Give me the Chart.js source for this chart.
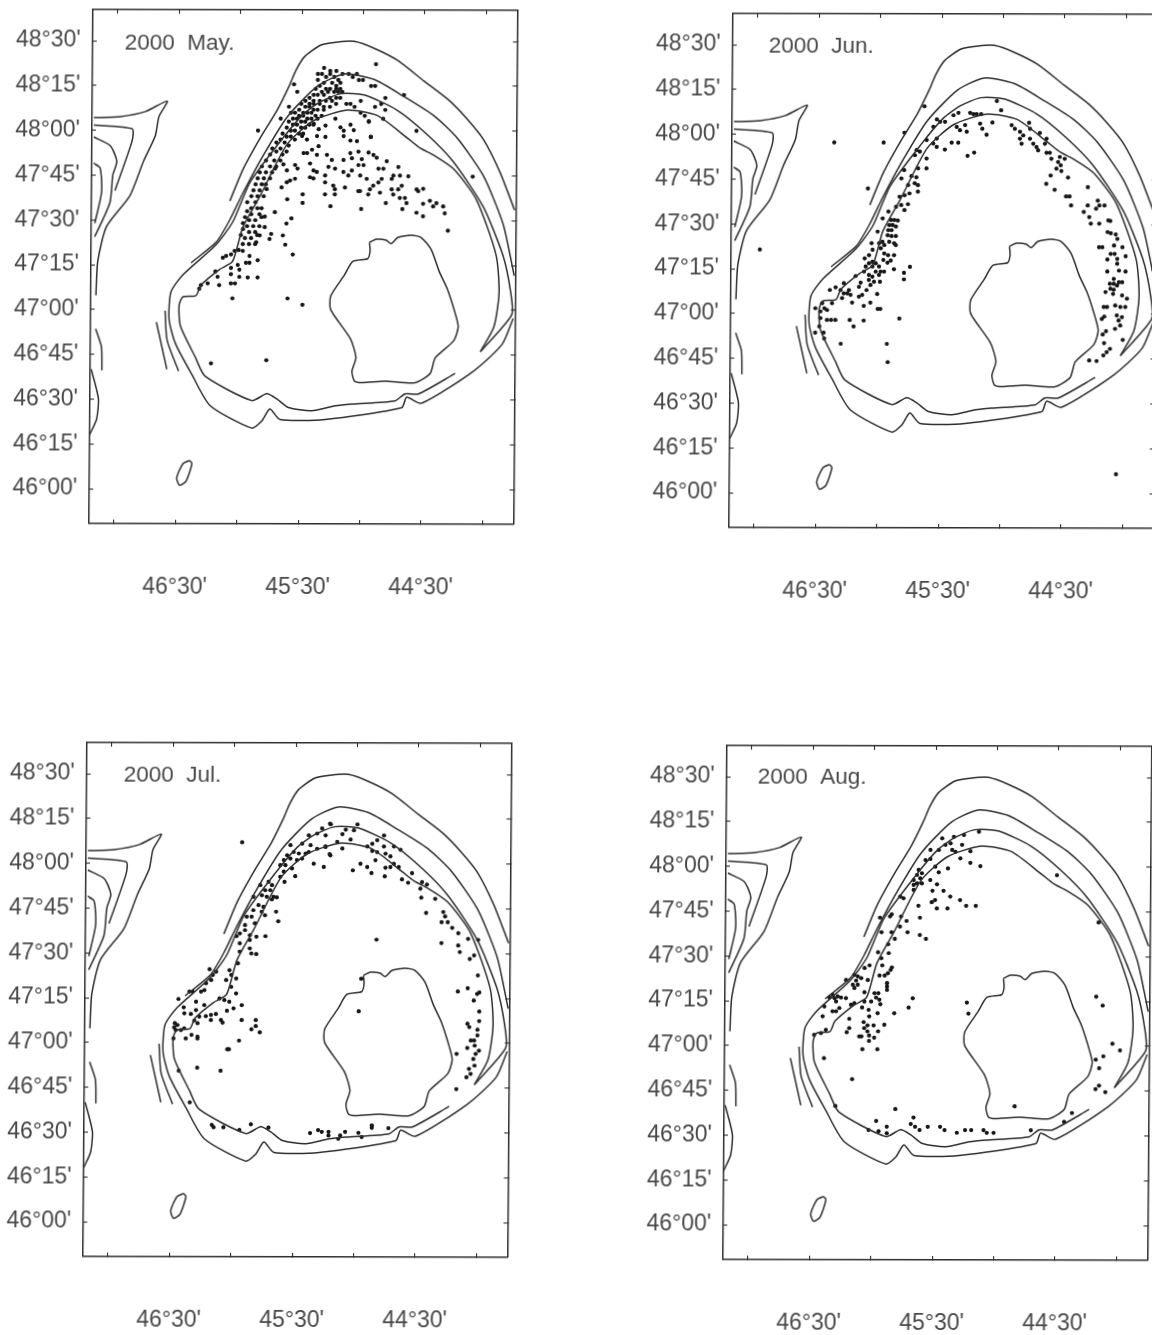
<!DOCTYPE html>
<html><head><meta charset="utf-8">
<script src="https://cdn.jsdelivr.net/npm/chart.js@4/dist/chart.umd.min.js"></script>
<style>
html,body{margin:0;padding:0;background:#fff;width:1152px;height:1335px;overflow:hidden}
canvas{position:absolute;filter:blur(.35px)}
</style></head><body>
<script>
// Units: x = arcminutes west of 44°00', y = arcminutes north of 46°00'
const xTickValues=[0,30,60,90,120,150,180];
const xTickLabels=["","44°30'","","45°30'","","46°30'",""];
const yTickValues=[0,15,30,45,60,75,90,105,120,135,150];
const yTickLabels=["46°00'","46°15'","46°30'","46°45'","47°00'","47°15'","47°30'","47°45'","48°00'","48°15'","48°30'"];

// Contours: flat lon,lat pairs
const contourOuter=[124.5,96.4,118,107.3,109.8,117.7,101.7,126.9,96,134.9,92.8,140.1,88.7,144.7,80.6,148.7,72.4,149.7,64.3,149.9,54.6,147.6,43.2,143.6,30.2,136.7,18,130.3,9,124,.9,117.1,-7.2,106.2,-14.5,93.5];
const contourSecond=[143.2,75.7,131,82.6,124.5,90,118,99.3,108.2,111.9,96.8,124.6,82.2,134.9,69.2,139,54.6,137.2,40,131.5,25.3,125.1,13.9,117.7,.9,105,-8.9,88.9,-14.5,71.6];
const contourThird=[-14.2,57.3,-8.9,48.6,5,39.6,30.2,28.8,37.5,30.8,39.9,27.3,77.3,23.3,99.3,23.3,104.2,26.8,108.2,22.7,113.1,20.4,133.4,27.9,142.4,38.3,150.5,48.6,153.7,56.7,152.9,65.9,147.2,71.6,131,81.8,122.9,89.5,114.7,102.7,100,116.5,88.7,125.7,80.6,129.7,70.8,132.4,59.4,132,43.2,126.9,28.5,118.8,15.5,109.6,.9,94.7,-8.9,78.5,-12.9,65.9,-13.4,58.4,1.7,46.1];
const contourInner=[13.9,38.8,31.8,31.9,38.3,31.9,43.2,29.6,64.3,28.5,72.4,27.9,83.8,26.2,95.2,27.3,100.9,30.2,105.8,31.9,113.1,29.6,135.9,37.7,140.7,44,148.1,54.4,148.9,61.3,147.2,64.2,140.7,64.7,138.3,68.2,129.4,73.4,122.9,76.2,118,87.7,109.8,98.1,96.8,115.4,83.8,123.4,67.6,126.9,52.9,125.1,38.3,117.7,31.8,114.2,25.3,111.9,15.5,107.3,4.2,97,-5.6,78.5,-7.2,65.9,-4.8,54.4,1.7,46.1];
const contourIsland=[56.2,82.6,52.9,83.7,48.1,83.4,45.6,82.2,42.4,84.3,35.9,85.1,31,84.3,26.1,80.3,22,72.8,18,67,13.9,58.4,12.6,54.4,14.7,49.8,23.7,44,26.1,38.8,33.4,35.7,48.1,36.2,59.4,35.7,63,36.2,64.3,39.4,62.4,44,65.1,50.3,74.9,60.1,74.9,64.7,68.4,71.6,64.3,76.2,57,77.2,55.9,79.7,56.2,82.6];
const contourEllipse=[143.2,9.5,142,8.4,144.8,2.6,148,1.2,149.4,3.7,146.4,8.4,143.2,9.5];
const contourWest1=[191.1,124.2,178.1,124.6,166,126.3,155.4,129.8,159.4,124.6,161.1,118.2,166.8,109.6,173.3,98.1,184.6,87.7,188.7,76.2,189.5,64.7];
const contourWest2=[191.1,121.7,172.4,120.5,172.4,116.5,180.6,99.8];
const contourWest3=[191.1,117.7,183,114.8,179.8,109.6,181.7,105,183,95.8,190.3,84.3];
const contourWest4=[191.1,109,187.9,107.3,187.1,99.3,190.3,88.9];
const contourWest5=[189.5,53.5,186.6,47.5,186.3,39.6];
const contourWest6=[191.5,40,187.9,30.2,188.7,23.3,192,18.1];
const contourArc1=[159.9,55.8,154.6,40];
const contourArc2=[155.7,59.6,154.6,49.8,148.9,39.4];

// Sightings: flat lon,lat pairs
const pointsMay=[53.7,142.3,39.9,132,33.7,120,6.1,104.7,18,86.6,111,120,93.6,78.5,96,63.8,88.7,61.7,122.9,63.8,133.1,42,106.1,43.1,75.4,94.7,60.4,93.8,
79,141,76,140,73,140,70,139,67,139,63,139,65,138,62,137,60,137,56,135,54,135,49,131,51,129,54,128,49,127,50,124,61,130,66,129,68,129,64,128,57,123,56,118,61,126,59,125,
82,139,80,139,78,138,76,139,74,138,72,137,82,137,79,136,75,136,73,135,71,136,81,135,78,134,76,134,73,134,71,134,83,134,80,133,77,133,74,133,72,133,70,133,84,132,82,132,79,132,76,131,73,131,71,131,86,131,84,130,81,130,78,130,75,130,73,129,88,130,86,129,84,129,81,129,79,128,76,128,90,129,88,128,86,128,84,127,82,127,79,127,91,127,89,126,87,126,85,126,83,125,80,125,93,126,91,125,89,125,87,124,85,124,82,124,94,124,92,124,90,123,88,123,86,122,84,122,96,123,94,122,92,122,90,121,88,121,97,121,95,120,93,120,91,119,89,119,93.6,135.5,92,133,96,128,95,126,100,124,
99,119,97,118,95,118,93,117,100,117,98,116,96,115,102,116,100,114,97,113,104,114,102,113,99,112,105,112,103,110,100,110,107,110,105,108,102,108,109,108,107,106,104,106,110,106,108,104,105,104,111,104,109,102,107,102,112,102,110,100,113,100,111,98,108,98,114,98,112,96,116,96,114,94,111,94,116,93,114,92,110,92,117,91,115,90,112,90,109,91,118,89,116,88,113,88,110,88,118,87,115,86,112,86,119,85,117,84,114,84,111,85,118,82,115,82,112,82,120,80,
109,94,107.4,91.2,107.4,87.7,109.8,84.9,111.5,82.6,104.2,85.4,105,83.7,98.5,84.9,97.3,81.8,102.5,92.7,96.8,88.9,94.4,90.6,96.5,97,89,98.7,89,95.8,
123.7,78.5,122,79.7,118,79.7,114.7,78,110.7,76.6,114.7,75.7,116.4,75.7,120.4,75,123.7,74,119.6,73.4,123.7,71.9,119.6,71,115.5,70.8,110.7,70.8,130.2,71,129.4,68.2,123.7,68.8,121.7,68.8,135,68.8,138.3,68.2,139.1,67,131.3,72.8,126.1,78,127.7,77.4,
83.8,122.3,81.4,120.5,78.1,121.7,82.2,118.2,78.1,117.9,89.5,118.2,87.1,117,88.7,112.5,87,112.5,84.6,113.6,81.4,114.8,82.2,111.9,77.3,111.9,74.9,110.2,69.2,110.2,65.9,112.5,65.1,110.8,61.9,113,57,112.7,54.6,111.9,53,111,60.3,110.5,59.4,108.5,61.9,108.5,76.5,107.9,73.3,107.3,69.2,106.2,65.1,106.7,66.8,105,61,105,57.8,103.9,52.1,107.3,49.7,107.3,48.1,109.8,42.4,107.9,50.5,103.9,52.1,102.7,54.6,101.6,44.8,105,45.6,103.9,41.6,105,37.5,104.8,40.7,101.6,45.6,100.4,42.4,100.4,56.2,100.4,61,99.8,57,98.7,51.3,99.3,44.8,98.7,41.6,97.5,39.1,97.5,38.3,95.8,48.4,95.8,40.3,93.8,33.4,100.4,30.2,100.6,32.6,99.8,26.9,96.6,30.2,95.6,23.7,95.8,25.3,94.7,20.4,94.7,19.6,92.4,33.4,92.6,30.2,91.4,
70.8,121.1,69.2,120,65.9,122,64.3,120.2,69.2,118.2,65.9,116.7,62.7,116.5,73.3,124,57,123.2,55.9,117.9,
78.1,105,78.1,102.7,74.1,101.6,73.3,100.4,68.4,101,78.1,98.7,73.3,98.7,61.9,99.8,
85.5,109,83.8,106.7,82.2,106.2,85.5,104.4,83.8,104,92.8,108.5,91.6,107.3,98.5,108.7,96.8,106.7,92.8,103.9,95.2,103.3,96.8,102.7,99.3,101,106.6,100.4,102.5,107.3];

const pointsJun=[142.1,117.3,118,117.3,125.5,101.9,107.9,120.6,98.2,129.5,75.9,127.3,84,126.5,81.6,127.3,92.1,125.1,90.5,124.3,88.1,124.3,93.8,122.6,82.4,122.6,80.8,121.5,78.3,123.2,77.5,121,97,118.2,92.1,118.7,93.8,117,92.1,115.9,88.1,115,84.8,117.3,81.6,117.3,77,112.9,101.9,114.8,100.3,114.3,102.7,113.1,97,112,97,108.7,101.1,108.7,107.9,108.1,109.2,105.3,104.3,106.1,101.9,105.7,102.7,103.7,101.1,103.1,101.1,100.9,105.9,103.1,107.6,99.7,105.2,100.3,110,99.2,105.9,96.7,111.7,95.8,109.2,96.4,107.6,94.7,115.4,94.2,118.2,91.9,
114.1,91.4,112.5,91.4,110.8,91.2,114.9,89.7,113.3,89.7,111.7,89.2,115.4,88,113.8,88,115.7,86.3,113.8,86,111.7,86,120.6,87.5,118.2,84.1,119.8,83.6,117.3,83,114.9,84.1,112.5,83.6,119,81.9,111.7,83,123.5,83.6,123,81.4,124.7,79.6,117.3,80.2,115.4,79.6,112.5,79.6,126.8,78.5,117.7,78,114.1,77.8,115.7,77.1,
123,77.4,124.7,76.9,121.4,76.9,126.3,75.8,123,75.8,119.8,75.8,127.1,74.1,121.4,74.1,119,74.1,117.3,74.1,124.7,73,123,72.4,119.8,73,124.7,71.3,122.2,70.7,119.3,70.7,123.9,69.6,112.5,74.9,104.7,75.7,107.6,73.7,107.6,71.5,
131.2,72.6,128.7,70.4,129.5,69,136.9,70.2,134.4,67.9,138.5,67.9,136.9,66.8,135.2,66.8,137.7,65.2,133.6,66.3,140.9,68.8,143.7,67.9,125.8,67.9,129.5,65.7,127.9,66.3,120.6,66.6,123.9,63.7,127.1,62.6,132.8,63.7,142.6,63.5,147.4,63.5,146.3,61.8,150.7,61.8,148.2,60.7,145,61.2,120.3,61.6,119,61.6,145,57.9,143,57.9,140.9,57.9,148.2,58.5,133.9,57.9,127.1,57.7,109.7,58.4,132,55.7,148.7,55.7,150.7,53.6,146.6,53.6,146.3,51.7,138.2,49.9,115.7,49.9,115.2,43.8,
62.9,131.3,60.8,128.2,74.3,126.9,72.7,126.9,70.5,126.9,65,124.1,71,123.7,69.9,122,67.8,120,73.8,114,55.6,123.2,54,122,47.1,124,46.6,122,51.5,121,49.9,119.8,51.5,118.7,50.7,117,46.6,118.7,45,117,43.4,115.9,42.6,114.8,41.8,120.6,38.5,118.7,39.3,117,38.5,114,36.9,114,36.1,112,32,112.6,29.6,112,32.8,110.9,31.5,109.8,33.6,108.7,31.2,107.9,36.4,106.4,27.9,105.7,38.5,103.6,34.4,101.6,28.8,99.4,27.1,99.4,26.3,96.4,18.2,102.5,
13.3,98,12.5,96.4,10,96.4,14.1,95.3,18.2,96.4,20.1,94.2,17.4,92.5,16.6,90.3,12.5,90.3,8.1,91.4,7.1,91.2,8.4,87.5,6.8,87.1,4.4,86.7,3.6,85.2,5.2,83,12.5,82.4,10.9,82.4,1.1,82.4,6.8,80.2,4.9,80.2,-.5,79.4,8.4,78.3,3.6,78.5,3.6,76.9,2.7,74.6,8.4,74.3,-.5,74.3,
5.2,71.8,2.7,70.7,1.1,70.7,7.1,70.2,5.2,70.2,3.6,69.6,6.8,68.5,5.2,68.2,5.5,66.8,9.2,67.4,1.1,66.3,-1.3,65.2,4.4,62.9,1.9,62.4,-.5,62.4,10,62.4,8.4,62.4,3.6,59.6,1.1,59,10.9,58.4,9.7,59.2,2.7,57.9,1.9,56.2,4.4,55.1,8.8,54.3,10.4,53.2,.6,51.4,9.7,50.3,6.8,48.4,8.4,47.3,10,46.2,16.9,44.5,13.3,44.3,3.4,6.4,178,81.4];

const pointsJul=[115.9,127.1,73.1,133.4,76.9,131.8,79.3,130.1,83.4,129.5,86.6,126.7,82.5,126.2,79.3,125,75.2,125.6,72.8,122.8,76,118.9,80.9,120,92.3,126.2,90.7,123.9,88.2,123.4,84.9,123.4,83.4,123.9,93.9,122.8,95.5,121.2,92.3,121.7,89.1,121.2,86.6,121.7,97.2,119.5,94.7,119.5,91.5,118.4,95.5,117.3,89.9,115.8,97.2,115.6,95.1,113.9,
106.9,112.8,102.9,113.9,101.2,112.8,104.5,111.1,102,111.1,106.1,109.4,110.2,108.9,103.7,108.9,100.4,108.9,98.8,108.7,101.2,108,107.7,106.1,105.3,105.5,110.2,104.4,106.1,103.9,113.4,102.2,111,102.2,104.5,102.7,99.1,103.9,98,100.7,114.2,99.4,109.4,100,116.7,96.6,114.2,97.7,111.8,96,108.6,95.5,104.2,95.7,118.3,95.7,111.8,94.4,116.7,93.3,111.8,91.6,111,89.9,108.6,89.7,116.7,90.5,117.5,86.6,
121.6,84.3,131.3,84.6,128.1,83.8,129.7,82.7,130.5,81,133,79.9,120.7,82.7,118.3,81.5,123.2,81,120.7,78.7,118.3,76.5,139.5,77.1,141.1,77.1,135.4,77.1,133.8,77.6,146.4,74.6,137.8,73.7,133.8,72.6,126.4,74.8,124,74.3,121.6,73.7,119.5,71.5,115.5,72.6,122.7,70.7,143.8,71.8,143.5,69.8,140.3,69.6,137.8,70.9,136.2,68.7,133,68.9,130.5,69.3,128.1,69.6,138.6,67.4,137,66.5,130.5,67.6,125.6,67.6,124.8,66.7,115.5,67.6,108.6,67.6,108.6,65.6,110.7,64.5,106.6,63.5,
148.1,66.5,148.4,65.1,146.8,65.9,145.1,64.2,143.5,64.8,147.6,64.2,148.7,61.4,142.7,61.4,139.9,62.6,137,62,137,61.4,116.7,60.7,122.4,57.8,121.6,57.8,146,50.6,137,51.6,125.6,50.6,
72.7,133.2,65.4,131.4,61.4,131.2,59.7,133.2,75.2,129.5,69.5,127.3,67,129.9,63,128.1,73.2,123.2,67,125.1,75.2,125.8,52.4,126.7,54.8,125.8,52.4,124.3,50,127.9,46.7,129.5,46.7,125.8,50,123.9,45.9,123.4,43.5,122.5,41.8,125.8,38.6,124.7,50.8,121.2,58.1,120,54.8,118.9,61.8,117.8,52.7,116.9,45.9,118.7,43.5,118.9,41.8,120,39.4,118.9,46.2,115.8,37.8,114.8,34.8,113.7,32.9,116.9,28,113.9,25.6,113.1,28.8,111.7,28.3,108.7,21.5,108.3,25.9,103.6,
17.5,103.9,16.6,102.4,18.3,100.5,15.3,100.5,13.1,98.6,10.1,96.8,5.3,94.9,.4,94.6,18.3,93.5,10.1,92.7,9.3,90.5,2.3,89.4,4.4,88.2,.4,82.7,10.1,77.3,5.3,78.4,-.4,77,.7,76.5,2.3,74.3,-.4,70.6,-.4,67.4,5.3,66.5,4.4,65.4,.4,64.5,.4,62.6,3.6,60.9,2,60.9,1.7,59.2,5.3,58.4,-.4,57.5,10.5,56.4,1.2,56.4,2.3,54.7,1.7,52.5,4.4,51.4,3.6,49.7,5.6,48.6,10.5,44.6,58.4,70.6,57.3,81.5,50,94.6,
51.6,32.4,51.6,31.6,43.5,31.5,72.7,30.2,72.7,29,76,30.2,67,29,64.6,30.2,67.9,27.9,58.1,29.9,56.5,28.5,140.5,40,129.7,32.5,128.8,31.7,124,31.7,116.2,30.8,110.6,32.7,102,31.6,81.7,29.8,77.8,30.8];

const pointsAug=[86.6,129.5,80.9,130,76,130.6,68.7,131.7,85,127.3,82.5,127.8,88.2,125.6,92.3,125.6,81.7,125.6,76.9,127.3,80.1,125,72.8,125.2,77.7,122.8,72.8,121.3,67.9,120.2,94.7,122.2,92.3,122.6,89.9,120,88.2,118.1,83.7,119.4,98,118.9,96.4,117.8,98.8,117.2,97.2,116.1,100.4,115.5,98.8,114.4,100.4,113.9,96.4,114.4,92.3,115.5,89,114.1,91.2,111.9,85.8,111.9,100.4,112.2,82.5,110,77.7,108.8,89.9,108.8,91.5,108.1,74.7,106.9,70,106.9,98,106.9,89,106,83.8,106,97.2,102.9,
106.9,110,105.3,109.4,111,104,111.8,103.3,116.7,102.9,106.4,103.3,103.7,101.8,106.9,99.9,115.9,98,111,98,103.2,98,97.2,97.1,94.2,95.8,109.4,95.8,112.6,94,117.5,91.3,112.3,91,115.9,89.3,121.6,86.9,115.4,86.9,110.7,86.2,111.3,85.4,124,86,112.6,84.3,116.7,83.5,114.2,83.5,
133,82,128.9,83.7,127.3,83.2,125.6,82.6,128.1,81.8,129.7,80.4,127.3,80.4,128.9,79.3,113,81,113,79.8,113,78.7,124,77.9,122.4,82,141.1,76.1,139.5,77,138.6,75.9,137,76.5,135.4,76.1,133,75.9,137.8,74.8,143.5,73.1,139.5,71.5,137.8,71.5,136.2,72.6,130.5,73.7,128.9,74.2,
119.1,77.6,117.2,77.6,118.3,76.1,116.7,75.4,120.7,74.8,116.2,73.9,124,74.8,125.1,72.8,121.9,72,117.5,70.9,121.6,69.8,109.4,70.9,100.4,75.9,102.4,72.8,131.3,69,144.3,69.8,114.2,67,124.3,67.9,122.4,66.8,119.4,66.8,124,65.9,131.3,65.9,132.5,64.5,122.4,64.8,117.2,64.8,142.7,65.3,145.1,64.2,148.4,63.6,121.6,63.4,126.4,63.1,125.3,63.1,119.1,62.7,121.6,61.6,124.8,58.8,117.5,58.8,143.5,55.8,129.7,48.8,
10.9,76.6,7.7,73.6,2.8,60.8,-.9,58.6,7.2,56.6,10.9,55.5,9.2,52.6,10.9,45.6,9.2,46.8,6.1,44.6,74,74.5,73.2,70.8,50.3,39.8,108.5,38.8,117.8,34.8,112.6,32.9,116.6,31.4,112.6,30.7,121.5,31.8,99.6,36,100.9,33.8,98.8,32.9,96.6,31.8,92.6,32.9,86.6,32.9,84.4,31.8,78.4,30.9,74.4,31.8,71.4,31.8,65.4,31.8,63.8,30.9,60.5,30.9,42.3,31.8,26.1,34.6,22.3,37.6,137.8,39.8,30.5,117.2,10,101.4];

const contours=[contourOuter,contourSecond,contourThird,contourInner,contourIsland,contourEllipse,contourWest1,contourWest2,contourWest3,contourWest4,contourWest5,contourWest6,contourArc1,contourArc2];
const pairs=f=>{const o=[];for(let i=0;i<f.length;i+=2)o.push({x:f[i],y:f[i+1]});return o;};

const INK='#2e2e2e', TXT='#484848';
const FONT={family:'"Liberation Sans"',size:23};
const panels=[
 {id:'a',title:'2000  May.',left:1,top:0,pts:pointsMay,tx:122,ty:44},
 {id:'b',title:'2000  Jun.',left:641,top:4,pts:pointsJun,tx:126,ty:43},
 {id:'c',title:'2000  Jul.',left:-5,top:733,pts:pointsJul,tx:127,ty:43},
 {id:'d',title:'2000  Aug.',left:635,top:736,pts:pointsAug,tx:121,ty:42}
];
const W=540,H=620,FL=90,FR=514.25,FT=10,FB=524;
const noPad=s=>{s.paddingLeft=s.paddingRight=s.paddingTop=s.paddingBottom=0;};

panels.forEach(p=>{
 const c=document.createElement('canvas');c.width=W;c.height=H;
 c.style.cssText=`left:${p.left}px;top:${p.top}px;width:${W}px;height:${H}px;transform-origin:${(FL+FR)/2}px ${(FT+FB)/2}px;transform:skew(-.44deg,.12deg)`;
 document.body.appendChild(c);
 const ds=contours.map(k=>({data:pairs(k),showLine:true,pointRadius:0,borderColor:INK,borderWidth:1.5,tension:.22,fill:false}));
 ds.push({data:pairs(p.pts),showLine:false,pointRadius:2.1,pointBorderWidth:0,backgroundColor:'#161616'});
 const tickGrid={drawOnChartArea:false,drawTicks:true,tickLength:-4,color:INK,lineWidth:1.1};
 const border={display:true,color:INK,width:1.5};
 const setX=s=>{s.ticks=xTickValues.map(v=>({value:v}));};
 const setY=s=>{s.ticks=yTickValues.map(v=>({value:v}));};
 new Chart(c,{type:'scatter',data:{datasets:ds},plugins:[{id:'panelTitle',afterDraw(ch){const g=ch.ctx;g.save();g.font='22.5px "Liberation Sans"';g.fillStyle=TXT;g.textBaseline='middle';g.fillText(p.title,p.tx,p.ty);g.restore();}}],
 options:{responsive:false,animation:false,devicePixelRatio:1,layout:{padding:0},
  plugins:{legend:{display:false},tooltip:{enabled:false},title:{display:false}},
  scales:{
   x:{type:'linear',position:'bottom',reverse:true,min:-15,max:192,afterBuildTicks:setX,afterFit:s=>{s.height=H-FB;noPad(s);},grid:tickGrid,border,
      ticks:{autoSkip:false,maxRotation:0,padding:54,color:TXT,font:FONT,callback:v=>xTickLabels[xTickValues.indexOf(v)]??''}},
   y:{type:'linear',position:'left',min:-11.7,max:160.4,afterBuildTicks:setY,afterFit:s=>{s.width=FL;noPad(s);},grid:tickGrid,border,
      ticks:{autoSkip:false,padding:16,color:TXT,font:FONT,callback:v=>yTickLabels[yTickValues.indexOf(v)]??''}},
   xTop:{type:'linear',position:'top',reverse:true,min:-15,max:192,afterBuildTicks:setX,afterFit:s=>{s.height=FT;noPad(s);},grid:tickGrid,border,ticks:{display:false}},
   yRight:{type:'linear',position:'right',min:-11.7,max:160.4,afterBuildTicks:setY,afterFit:s=>{s.width=W-FR;noPad(s);},grid:tickGrid,border,ticks:{display:false}}
  }}});
});
</script></body></html>
